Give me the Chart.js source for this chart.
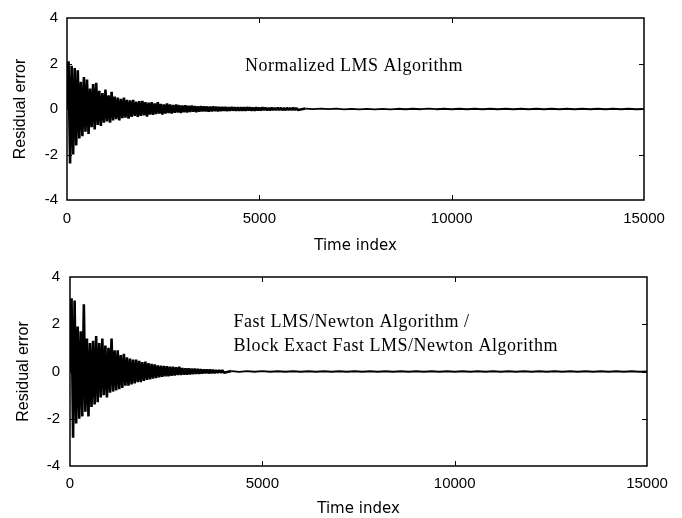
<!DOCTYPE html>
<html>
<head>
<meta charset="utf-8">
<script src="https://cdn.jsdelivr.net/npm/chart.js@4.4.1/dist/chart.umd.min.js"></script>
<style>
  html, body { margin: 0; padding: 0; background: #fff; }
  #wrap { position: relative; width: 682px; height: 518px; }
  canvas { position: absolute; left: 0; }
</style>
</head>
<body>
<div id="wrap">
  <canvas id="chartTop" width="682" height="256" style="top:0"></canvas>
  <canvas id="chartBottom" width="682" height="262" style="top:256px"></canvas>
</div>
<script>
// samples: a dense part (every 40 samples) then a sparse tail (every 200)
const denseStep = 40;
const tailStep = 200;

// Normalized LMS residual error, t = 0 .. 6000
const nlmsDense = [
  0, 2.1, -2.4, 1.9, -2.0, 1.8, -1.6, 1.7, -1.3, 1.2,
  -1.2, 1.4, -1.0, 1.3, -1.1, 0.9, -0.8, 1.1, -0.9, 1.15,
  -0.7, 0.8, -0.75, 0.7, -0.6, 0.85, -0.55, 0.6, -0.6, 0.75,
  -0.5, 0.55, -0.45, 0.5, -0.5, 0.45, -0.4, 0.5, -0.38, 0.4,
  -0.42, 0.38, -0.35, 0.4, -0.3, 0.32, -0.35, 0.35, -0.3, 0.36,
  -0.28, 0.3, -0.33, 0.28, -0.25, 0.3, -0.26, 0.25, -0.22, 0.3,
  -0.2, 0.22, -0.24, 0.2, -0.2, 0.24, -0.18, 0.2, -0.2, 0.18,
  -0.16, 0.2, -0.15, 0.17, -0.18, 0.15, -0.14, 0.16, -0.15, 0.14,
  -0.13, 0.15, -0.12, 0.13, -0.14, 0.12, -0.12, 0.13, -0.11, 0.12,
  -0.1, 0.11, -0.12, 0.1, -0.1, 0.11, -0.09, 0.1, -0.1, 0.09,
  -0.09, 0.09, -0.08, 0.09, -0.09, 0.08, -0.08, 0.09, -0.07, 0.08,
  -0.08, 0.07, -0.08, 0.08, -0.07, 0.07, -0.07, 0.08, -0.06, 0.07,
  -0.07, 0.06, -0.07, 0.07, -0.06, 0.06, -0.06, 0.07, -0.05, 0.06,
  -0.06, 0.05, -0.06, 0.06, -0.05, 0.05, -0.05, 0.06, -0.04, 0.05,
  -0.05, 0.04, -0.05, 0.05, -0.04, 0.04, -0.04, 0.05, -0.04, 0.04,
  -0.04
];
// t = 6200 .. 15000
const nlmsTail = [
  0.02, -0.01, 0.02, -0.01, 0.02,
  -0.02, 0.01, -0.02, 0.01, -0.02,
  0.01, -0.02, 0.01, -0.01, 0.01,
  -0.01, 0.02, -0.01, 0.01, -0.01,
  0.01, -0.01, 0.01, -0.01, 0.01,
  -0.01, 0.01, -0.01, 0.01, -0.01,
  0.01, -0.01, 0.01, -0.01, 0.01,
  -0.01, 0.01, -0.01, 0.01, -0.01,
  0.01, -0.01, 0.01, -0.01, 0
];

// Fast LMS/Newton (block exact) residual error, t = 0 .. 4000
const newtonDense = [
  0, 3.1, -2.8, 3.0, -2.2, 1.9, -2.0, 1.7, -1.9, 2.85,
  -1.7, 1.4, -1.9, 1.2, -1.5, 1.3, -1.4, 1.5, -1.3, 1.2,
  -1.1, 1.4, -1.0, 1.1, -1.1, 1.0, -0.9, 1.4, -0.85, 0.9,
  -0.8, 0.9, -0.75, 0.7, -0.7, 0.75, -0.6, 0.6, -0.6, 0.55,
  -0.55, 0.5, -0.5, 0.5, -0.45, 0.45, -0.45, 0.4, -0.4, 0.42,
  -0.35, 0.35, -0.33, 0.32, -0.3, 0.3, -0.28, 0.26, -0.25, 0.25,
  -0.22, 0.24, -0.2, 0.22, -0.2, 0.2, -0.18, 0.2, -0.17, 0.18,
  -0.15, 0.2, -0.15, 0.15, -0.14, 0.14, -0.13, 0.13, -0.12, 0.12,
  -0.11, 0.12, -0.1, 0.11, -0.1, 0.1, -0.09, 0.09, -0.08, 0.09,
  -0.08, 0.08, -0.07, 0.07, -0.07, 0.06, -0.06, 0.06, -0.05, 0.05,
  -0.05
];
// t = 4200 .. 15000
const newtonTail = [
  0.02, -0.02, 0.02, -0.01, 0.02,
  -0.01, 0.01, -0.01, 0.01, -0.01,
  0.01, -0.01, 0.01, -0.01, 0.01,
  -0.01, 0.01, -0.01, 0.01, -0.01,
  0.01, -0.01, 0.01, -0.01, 0.01,
  -0.01, 0.01, -0.01, 0.01, -0.01,
  0.01, -0.01, 0.01, -0.01, 0.01,
  -0.01, 0.01, -0.01, 0.01, -0.01,
  0.01, -0.01, 0.01, -0.01, 0.01,
  -0.01, 0.01, -0.01, 0.01, -0.01,
  0.01, -0.01, 0.01, -0.01, 0
];

const xTicks = [0, 5000, 10000, 15000];
const yTicks = [-4, -2, 0, 2, 4];

function toPoints(dense, tail) {
  const pts = dense.map((v, i) => ({ x: i * denseStep, y: v }));
  const start = (dense.length - 1) * denseStep + tailStep;
  tail.forEach((v, i) => pts.push({ x: start + i * tailStep, y: v }));
  return pts;
}

// thicker stroke where the signal still swings, so the core reads as solid black
function segWidth(c) {
  const big = Math.max(Math.abs(c.p0.parsed.y), Math.abs(c.p1.parsed.y));
  return big > 0.03 ? 2.6 : 1.8;
}

// box round the plot, inward ticks, and the text notes
const framePlugin = {
  id: 'frame',
  afterDatasetsDraw(chart, args, opts) {
    const { ctx, chartArea: a, scales: { x, y } } = chart;
    ctx.save();
    ctx.strokeStyle = '#000';
    ctx.lineWidth = 1;
    ctx.beginPath();
    xTicks.slice(1, -1).forEach(v => {
      const px = Math.round(x.getPixelForValue(v)) + 0.5;
      ctx.moveTo(px, a.top); ctx.lineTo(px, a.top + 5);
      ctx.moveTo(px, a.bottom); ctx.lineTo(px, a.bottom - 5);
    });
    yTicks.slice(1, -1).forEach(v => {
      const py = Math.round(y.getPixelForValue(v)) + 0.5;
      ctx.moveTo(a.left, py); ctx.lineTo(a.left + 5, py);
      ctx.moveTo(a.right, py); ctx.lineTo(a.right - 5, py);
    });
    ctx.stroke();
    ctx.lineWidth = 1.5;
    ctx.strokeRect(a.left, a.top, a.right - a.left, a.bottom - a.top);
    ctx.fillStyle = '#000';
    ctx.font = '18px "Liberation Serif", "Times New Roman", serif';
    ctx.letterSpacing = '0.5px';
    ctx.textBaseline = 'middle';
    ctx.textAlign = 'left';
    (opts.notes || []).forEach(n => {
      ctx.fillText(n.text, x.getPixelForValue(n.x), y.getPixelForValue(n.y));
    });
    ctx.restore();
  }
};

function makeChart(id, points, box, notes) {
  return new Chart(document.getElementById(id), {
    type: 'line',
    data: {
      datasets: [{
        data: points,
        borderColor: '#000',
        borderWidth: 1.8,
        borderJoinStyle: 'bevel',
        pointRadius: 0,
        tension: 0,
        fill: false,
        segment: { borderWidth: segWidth }
      }]
    },
    options: {
      responsive: false,
      animation: false,
      devicePixelRatio: 1,
      layout: { padding: { top: box.top, right: box.right, left: 0, bottom: 0 } },
      plugins: {
        legend: { display: false },
        tooltip: { enabled: false },
        frame: { notes: notes }
      },
      scales: {
        x: {
          type: 'linear',
          min: 0,
          max: 15000,
          afterBuildTicks: s => { s.ticks = xTicks.map(v => ({ value: v })); },
          afterFit: s => { s.height = box.xHeight; },
          grid: { display: false, drawTicks: false },
          border: { display: false },
          ticks: {
            color: '#000',
            padding: box.xPad,
            maxRotation: 0,
            font: { family: '"Liberation Sans", Arial, sans-serif', size: 15 },
            callback: v => String(v)
          },
          title: {
            display: true,
            text: 'Time index',
            color: '#000',
            padding: { top: 0, bottom: box.titlePad },
            font: { family: '"DejaVu Sans", sans-serif', size: 15 }
          }
        },
        y: {
          min: -4,
          max: 4,
          afterBuildTicks: s => { s.ticks = yTicks.map(v => ({ value: v })); },
          afterFit: s => { s.width = box.yWidth; },
          grid: { display: false, drawTicks: false },
          border: { display: false },
          ticks: {
            color: '#000',
            padding: box.yPad,
            font: { family: '"Liberation Sans", Arial, sans-serif', size: 15 }
          },
          title: {
            display: true,
            text: 'Residual error',
            color: '#000',
            padding: { top: box.yTitlePad, bottom: 0 },
            font: { family: '"Liberation Sans", Arial, sans-serif', size: 16 }
          }
        }
      }
    },
    plugins: [framePlugin]
  });
}

makeChart('chartTop', toPoints(nlmsDense, nlmsTail),
  { top: 13, right: 38, xHeight: 56, yWidth: 67, xPad: 10, yPad: 9, titlePad: 1, yTitlePad: 11 },
  [{ text: 'Normalized LMS Algorithm', x: 4630, y: 1.9 }]);

makeChart('chartBottom', toPoints(newtonDense, newtonTail),
  { top: 21, right: 35, xHeight: 52, yWidth: 70, xPad: 9, yPad: 10, titlePad: 0, yTitlePad: 14 },
  [{ text: 'Fast LMS/Newton Algorithm /', x: 4250, y: 2.1 },
   { text: 'Block Exact Fast LMS/Newton Algorithm', x: 4250, y: 1.08 }]);
</script>
</body>
</html>
